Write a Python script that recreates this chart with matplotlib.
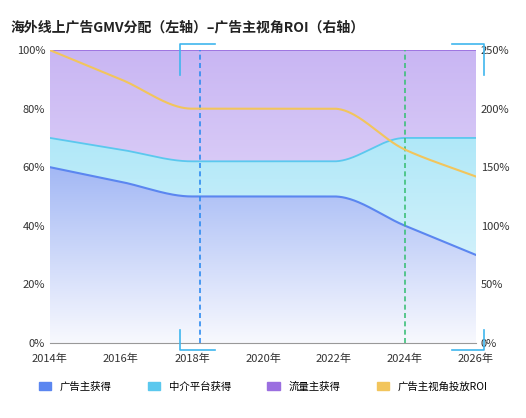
import numpy as np
import matplotlib
matplotlib.use("Agg")
import matplotlib.pyplot as plt
from matplotlib.colors import LinearSegmentedColormap
from matplotlib.patches import Polygon
from matplotlib.lines import Line2D

plt.rcParams['font.family'] = ['Noto Sans CJK SC', 'DejaVu Sans']

years = [2014, 2016, 2018, 2020, 2022, 2024, 2026]
advertiser = [60, 55, 50, 50, 50, 40, 30]
platform_top = [70, 66, 62, 62, 62, 70, 70]
traffic_top = [100, 100, 100, 100, 100, 100, 100]
roi = [250, 225, 200, 200, 200, 165, 142]
x_ticks = [2014, 2016, 2018, 2020, 2022, 2024, 2026]
x_labels = [f"{y}年" for y in x_ticks]
legend_labels = ["广告主获得", "中介平台获得", "流量主获得", "广告主视角投放ROI"]

def pchip(x, y, xs):
    x = np.asarray(x, float); y = np.asarray(y, float)
    h = np.diff(x); d = np.diff(y) / h
    m = np.zeros_like(y)
    for k in range(1, len(y) - 1):
        if d[k-1] * d[k] > 0:
            w1 = 2*h[k] + h[k-1]; w2 = h[k] + 2*h[k-1]
            m[k] = (w1 + w2) / (w1/d[k-1] + w2/d[k])
    m[0] = d[0] if d[0]*d[min(1,len(d)-1)] > 0 else 0
    m[-1] = d[-1] if d[-1]*d[-2] > 0 else 0
    out = np.empty_like(xs)
    for i, xv in enumerate(xs):
        k = min(np.searchsorted(x, xv, side='right') - 1, len(x) - 2)
        t = (xv - x[k]) / h[k]
        h00 = 2*t**3 - 3*t**2 + 1; h10 = t**3 - 2*t**2 + t
        h01 = -2*t**3 + 3*t**2; h11 = t**3 - t**2
        out[i] = h00*y[k] + h10*h[k]*m[k] + h01*y[k+1] + h11*h[k]*m[k+1]
    return out

fig = plt.figure(figsize=(5.26, 4.18), dpi=100)
ax = fig.add_axes([0.095, 0.18, 0.81, 0.70])
ax2 = ax.twinx()
xs = np.linspace(2014, 2026, 400)
a = pchip(years, advertiser, xs)
p = pchip(years, platform_top, xs)
t = np.array(traffic_top, float).max() * np.ones_like(xs)
r = pchip(years, roi, xs)

def grad_fill(lower, upper, c_top, c_bot):
    cmap = LinearSegmentedColormap.from_list("g", [c_bot, c_top])
    top = upper.max()
    img = ax.imshow(np.linspace(0, 1, 256).reshape(-1, 1), cmap=cmap, aspect='auto',
                    extent=[2014, 2026, 0, top], origin='lower', zorder=1)
    verts = np.vstack([np.column_stack([xs, upper]), np.column_stack([xs[::-1], lower[::-1]])])
    poly = Polygon(verts, closed=True, transform=ax.transData, facecolor='none', edgecolor='none')
    ax.add_patch(poly)
    img.set_clip_path(poly)

zero = np.zeros_like(xs)
grad_fill(p, t, "#c9b6f3", "#f0eafc")
grad_fill(a, p, "#b0e8f8", "#e8f7fd")
grad_fill(zero, a, "#a3b8f5", "#f8f9fe")
ax.plot(xs, t, color="#9b6fe0", lw=1.3, zorder=3)
ax.plot(xs, p, color="#5bc8ee", lw=1.3, zorder=3)
ax.plot(xs, a, color="#5b86f0", lw=1.5, zorder=3)
ax2.plot(xs, r, color="#f2c55c", lw=1.5, zorder=3)

ax.axvline(2018.23, color="#2f8cf0", ls=(0, (3, 2)), lw=1.2, zorder=4)
ax.axvline(2024.0, color="#3ec07a", ls=(0, (3, 2)), lw=1.2, zorder=4)

ax.set_xlim(2014, 2026)
ax.set_ylim(0, 100)
ax2.set_ylim(0, 250)
ax.set_xticks(x_ticks, x_labels)
ax.set_yticks(range(0, 101, 20), [f"{v}%" for v in range(0, 101, 20)])
ax2.set_yticks(range(0, 251, 50), [f"{v}%" for v in range(0, 251, 50)])
for a_ in (ax, ax2):
    for s in a_.spines.values():
        s.set_visible(False)
    a_.tick_params(length=0, labelsize=8, colors="#333333")
ax.tick_params(axis='x', pad=8)
ax.spines['bottom'].set_visible(True)
ax.spines['bottom'].set_color("#999999")
ax.grid(axis='y', color="#e0e0e0", lw=0.8)
ax.set_axisbelow(True)

fig.text(0.02, 0.925, "海外线上广告GMV分配（左轴）–广告主视角ROI（右轴）", fontsize=10,
         fontweight='bold', color="#222222")

bc = "#3fb6ee"
def seg(xy):
    fig.add_artist(Line2D([p_[0]/526 for p_ in xy], [1 - p_[1]/418 for p_ in xy], color=bc, lw=1.2))
seg([(180, 75), (180, 44), (215, 44)])
seg([(180, 330), (180, 350), (215, 350)])
seg([(452, 44), (484, 44), (484, 75)])
seg([(484, 330), (484, 350), (452, 350)])

cols = ["#5b86f0", "#5bc8ee", "#9b6fe0", "#f2c55c"]
handles = [plt.Rectangle((0, 0), 1, 1, color=c) for c in cols]
fig.legend(handles, legend_labels, loc='lower center', ncol=4, frameon=False, fontsize=7.5,
           bbox_to_anchor=(0.5, 0.04), handlelength=1.2, handleheight=0.8, columnspacing=3.5)
fig.savefig("out.png", dpi=100, facecolor="white")
